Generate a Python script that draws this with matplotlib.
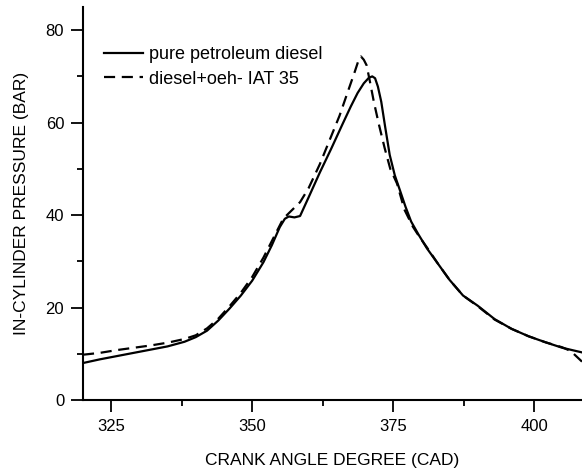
# in-cylinder pressure vs crank angle, diesel vs diesel+oeh
import numpy             as np
import matplotlib
matplotlib.use('Agg')
import matplotlib.pyplot as plt
from matplotlib.ticker import MultipleLocator

plt.rcParams['font.family'] = ['Liberation Sans', 'DejaVu Sans']

# pure petroleum diesel
cadDiesel = [320, 323, 326, 329, 332, 335, 338, 340, 342, 344, 346, 348, 350, 352, 353.5,
             354.9, 355.8, 356.5, 357.5, 358.5, 360, 362, 364, 366, 367.5, 368.7, 369.8,
             370.7, 371.3, 371.8, 372.3, 372.9, 373.6, 374.4, 375.3, 376.2, 377.2, 378.2,
             379.5, 381, 383, 385, 387.4, 390, 393, 396, 399, 402, 405, 408.5]
pDiesel   = [8.0, 8.8, 9.5, 10.2, 10.9, 11.6, 12.6, 13.6, 15.0, 17.2, 19.8, 22.6, 25.8, 29.8, 33.5,
             37.4, 39.2, 39.7, 39.5, 39.8, 43.8, 49.2, 54.3, 59.6, 63.5, 66.4, 68.5,
             69.7, 70.0, 69.6, 67.8, 64.5, 59.0, 53.0, 48.6, 45.4, 41.8, 38.6,
             35.8, 32.8, 29.4, 26.0, 22.6, 20.4, 17.5, 15.4, 13.8, 12.5, 11.3, 10.3]

# diesel + oeh, IAT 35
cadOeh = [320, 323, 326, 329, 332, 335, 338, 340, 342, 344, 346, 348, 350, 352, 354,
          355.5, 357, 358.5, 360, 362, 364, 365.5, 367, 368.2, 368.9, 369.3, 369.8,
          370.3, 370.9, 371.6, 372.5, 373.5, 374.5, 375.7, 377, 378.5,
          379.5, 381, 383, 385, 387.4, 390, 393, 396, 399, 402, 405, 406.5, 408.5]
pOeh   = [9.8, 10.2, 10.8, 11.3, 11.8, 12.4, 13.2, 14.0, 15.5, 17.6, 20.3, 23.2, 26.6, 30.8, 35.6,
          39.2, 41.0, 42.8, 45.8, 51.0, 57.0, 61.5, 66.8, 71.0, 73.6, 74.3, 73.6,
          72.4, 68.8, 64.4, 59.5, 54.5, 50.0, 46.8, 41.2, 37.5,
          35.6, 33.0, 29.4, 26.0, 22.6, 20.3, 17.4, 15.4, 13.8, 12.5, 11.4, 10.6, 8.3]

xTicks = [325, 350, 375, 400]
yTicks = [0, 20, 40, 60, 80]

fig = plt.figure(figsize=(5.82, 4.72), dpi=100)
ax  = fig.add_axes([0.1426, 0.1525, 0.8574, 0.8326])

ax.plot(cadDiesel, pDiesel, '-k', linewidth=1.6, label='pure petroleum diesel')
ax.plot(cadOeh, pOeh, '--k', linewidth=1.6, dashes=(5, 3), label='diesel+oeh- IAT 35')

ax.set_xlim([320, 408.5])
ax.set_ylim([0, 85])
ax.set_xticks(xTicks)
ax.set_yticks(yTicks)
ax.xaxis.set_minor_locator(MultipleLocator(12.5))
ax.yaxis.set_minor_locator(MultipleLocator(10))
ax.tick_params(which='major', direction='out', length=8.5, width=1.3, pad=5, labelsize=12)
ax.tick_params(which='minor', direction='out', length=4, width=1.3)

for side in ['top', 'right']:
    ax.spines[side].set_visible(False)
for side in ['left', 'bottom']:
    ax.spines[side].set_linewidth(1.5)

ax.set_xlabel('CRANK ANGLE DEGREE (CAD)', fontsize=12.5, labelpad=14)
ax.set_ylabel('IN-CYLINDER PRESSURE (BAR)', fontsize=12.5, labelpad=12)

ax.legend(loc='upper left', bbox_to_anchor=(0.027, 0.918), frameon=False, fontsize=13,
          handlelength=2.2, handletextpad=0.3, labelspacing=0.4, borderaxespad=0)

fig.savefig('out.png', dpi=100)
